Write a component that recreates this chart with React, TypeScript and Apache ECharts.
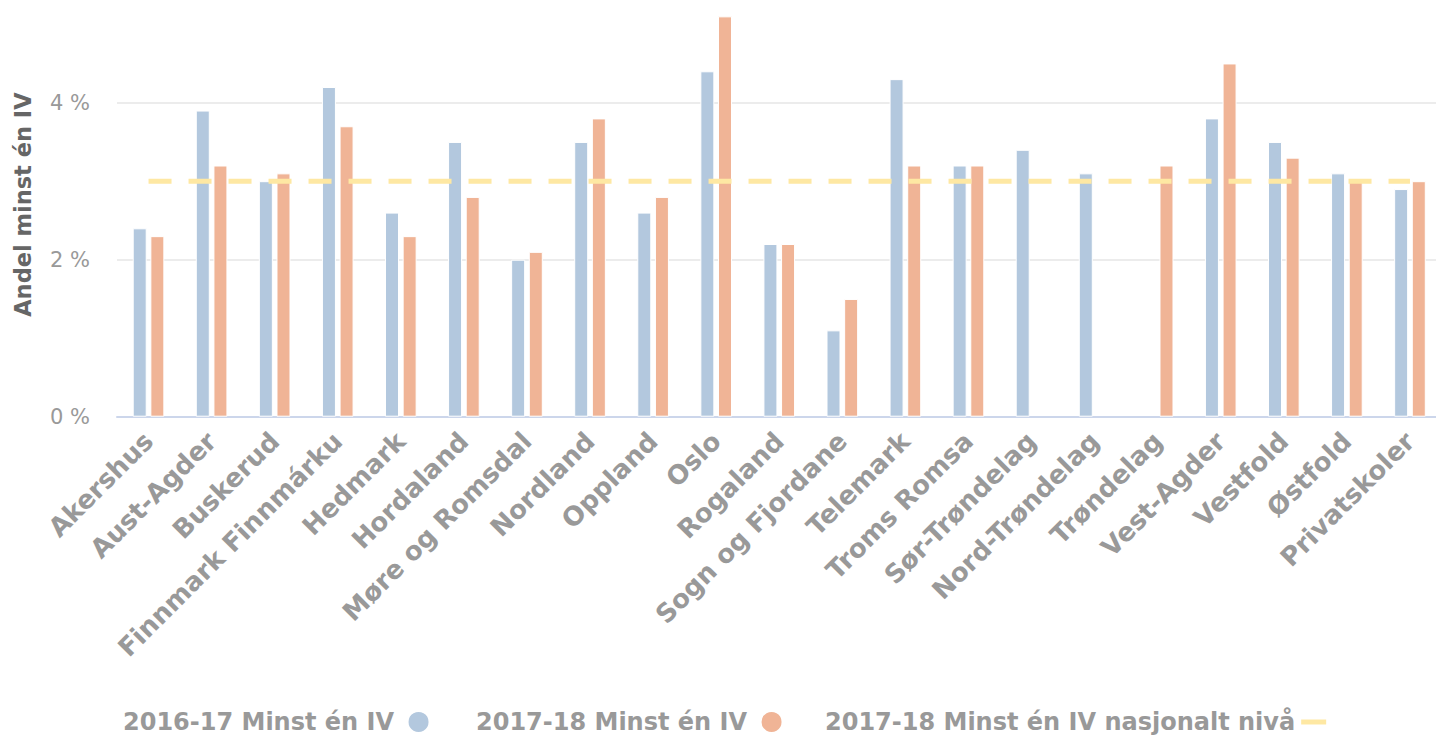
import React, { useEffect, useRef } from "react";
import * as echarts from "echarts";

const categories = [
  "Akershus", "Aust-Agder", "Buskerud", "Finnmark Finnmárku", "Hedmark", "Hordaland",
  "Møre og Romsdal", "Nordland", "Oppland", "Oslo", "Rogaland", "Sogn og Fjordane",
  "Telemark", "Troms Romsa", "Sør-Trøndelag", "Nord-Trøndelag", "Trøndelag",
  "Vest-Agder", "Vestfold", "Østfold", "Privatskoler",
];
const values1617 = [2.4, 3.9, 3.0, 4.2, 2.6, 3.5, 2.0, 3.5, 2.6, 4.4, 2.2, 1.1, 4.3, 3.2, 3.4, 3.1, null, 3.8, 3.5, 3.1, 2.9];
const values1718 = [2.3, 3.2, 3.1, 3.7, 2.3, 2.8, 2.1, 3.8, 2.8, 5.1, 2.2, 1.5, 3.2, 3.2, null, null, 3.2, 4.5, 3.3, 3.0, 3.0];
const nationalLevel = [3.0, 3.0, 3.0, 3.0, 3.0, 3.0, 3.0, 3.0, 3.0, 3.0, 3.0, 3.0, 3.0, 3.0, 3.0, 3.0, 3.0, 3.0, 3.0, 3.0, 3.0];
const seriesNames = ["2016-17 Minst én IV", "2017-18 Minst én IV", "2017-18 Minst én IV nasjonalt nivå"];
const legendIcons = ["circle", "circle", "path://M0,0H25V5H0Z"];
const legendLefts = [123, 476, 825];
const legendTextPadRight = [7, 7, 1];

const FONT = "DejaVu Sans";

export default function App() {
  const ref = useRef<HTMLDivElement>(null);
  useEffect(() => {
    if (!ref.current) return;
    const chart = echarts.init(ref.current, null, { renderer: "svg" });
    chart.setOption({
      animation: false,
      textStyle: { fontFamily: FONT },
      grid: { left: 117, right: 0.5, top: 8.5, bottom: 319.3, containLabel: false, outerBoundsMode: "none" },
      legend: seriesNames.map((name, i) => ({
        left: legendLefts[i],
        top: 710,
        padding: 0,
        align: "right",
        itemWidth: 25,
        itemHeight: 22,
        textStyle: {
          fontFamily: FONT, fontSize: 24, fontWeight: "bold", color: "#999999",
          padding: [0, legendTextPadRight[i], 0, 0],
        },
        data: [{ name, icon: legendIcons[i] }],
      })),
      xAxis: {
        type: "category",
        data: categories,
        axisLine: { show: true, lineStyle: { color: "#ccd6eb", width: 2 } },
        axisTick: { show: false },
        axisLabel: {
          interval: 0,
          rotate: 45,
          margin: 20,
          fontFamily: FONT,
          fontSize: 26,
          fontWeight: "bold",
          color: "#999999",
        },
      },
      yAxis: {
        type: "value",
        min: 0,
        max: 5.2,
        interval: 2,
        name: "Andel minst én IV",
        nameLocation: "middle",
        nameGap: 83,
        nameRotate: 90,
        nameTextStyle: { fontFamily: FONT, fontSize: 22.5, fontWeight: "bold", color: "#666666", padding: [0, 0, 0, 16] },
        axisLine: { show: false },
        axisTick: { show: false },
        axisLabel: {
          margin: 27,
          fontFamily: FONT,
          fontSize: 21,
          color: "#999999",
          showMaxLabel: false,
          formatter: (v: number) => `${v} %`,
        },
        splitLine: { show: true, showMaxLine: false, lineStyle: { color: "#e6e6e6", width: 1.5 } },
      },
      series: [
        {
          name: seriesNames[0],
          type: "bar",
          data: values1617,
          barWidth: 14,
          barGap: "26%",
          itemStyle: { color: "#b3c8de", borderColor: "#ffffff", borderWidth: 1 },
        },
        {
          name: seriesNames[1],
          type: "bar",
          data: values1718,
          barWidth: 14,
          barGap: "26%",
          itemStyle: { color: "#f0b496", borderColor: "#ffffff", borderWidth: 1 },
        },
        {
          name: seriesNames[2],
          type: "line",
          data: nationalLevel,
          symbol: "none",
          z: 5,
          itemStyle: { color: "#fee8a3" },
          lineStyle: { color: "#fee8a3", width: 5, type: [23, 17] },
        },
      ],
    });
    return () => chart.dispose();
  }, []);
  return (
    <div style={{ position: "absolute", left: 0, top: 0, width: 1436, height: 736, overflow: "hidden" }}>
      <div ref={ref} style={{ width: 1442, height: 736 }} />
    </div>
  );
}
